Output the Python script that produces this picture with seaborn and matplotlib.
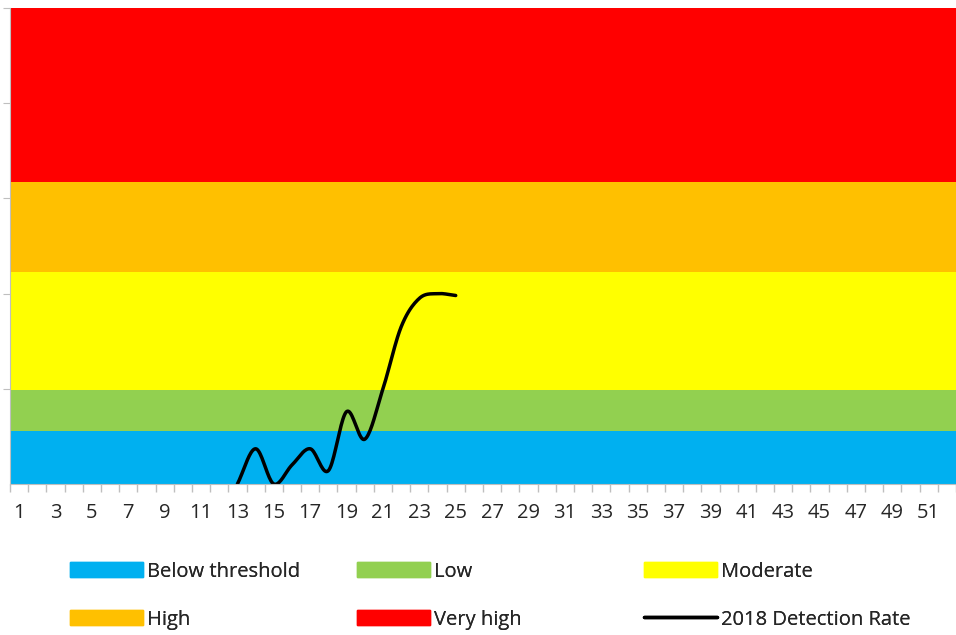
import numpy as np
import pandas as pd
import seaborn as sns
import matplotlib.pyplot as plt
from matplotlib.patches import Patch
from matplotlib.lines import Line2D

weeks = np.arange(1, 53)
band_names = ["Below threshold", "Low", "Moderate", "High", "Very high"]
band_tops = [0.56, 0.99, 2.23, 3.17, 5.0]
band_colors = ["#00B0F0", "#92D050", "#FFFF00", "#FFC000", "#FF0000"]

rate_weeks = [13, 14, 15, 16, 17, 18, 19, 20, 21, 22, 23, 24, 25]
rate_values = [0.0, 0.37, 0.0, 0.2, 0.37, 0.14, 0.76, 0.47, 1.0, 1.65, 1.95, 2.0, 1.98]


def smooth(xs, ys, n=20):
    # Catmull-Rom style smoothing, like a spreadsheet "smoothed line"
    xs = np.asarray(xs, float)
    ys = np.asarray(ys, float)
    px = np.concatenate([[2 * xs[0] - xs[1]], xs, [2 * xs[-1] - xs[-2]]])
    py = np.concatenate([[2 * ys[0] - ys[1]], ys, [2 * ys[-1] - ys[-2]]])
    ox, oy = [], []
    for i in range(1, len(px) - 2):
        t = np.linspace(0, 1, n, endpoint=False)
        for p, out in ((px, ox), (py, oy)):
            p0, p1, p2, p3 = p[i - 1], p[i], p[i + 1], p[i + 2]
            out.extend(0.5 * (2 * p1 + (-p0 + p2) * t + (2 * p0 - 5 * p1 + 4 * p2 - p3) * t ** 2
                              + (-p0 + 3 * p1 - 3 * p2 + p3) * t ** 3))
    ox.append(xs[-1])
    oy.append(ys[-1])
    return np.array(ox), np.array(oy)


sns.set_style("white")
plt.rcParams['font.family'] = ['Open Sans', 'DejaVu Sans']
plt.rcParams['xtick.bottom'] = True
plt.rcParams['ytick.left'] = True

fig = plt.figure(figsize=(9.56, 6.35), dpi=100)
ax = fig.add_axes([10 / 956, 1 - 484 / 635, 946 / 956, 476 / 635])

bottom = 0
for name, top, color in zip(band_names, band_tops, band_colors):
    ax.fill_between([0.5, 52.5], bottom, top, color=color, linewidth=0)
    bottom = top

sx, sy = smooth(rate_weeks, rate_values)
sns.lineplot(x=sx, y=sy, ax=ax, color="black", linewidth=2.5, sort=False)

ax.set_xlim(0.5, 52.5)
ax.set_ylim(0, 5)
ax.set_xticks(weeks[::2])
ax.set_xticklabels([str(w) for w in weeks[::2]], fontsize=14.5)
ax.set_xticks(np.arange(0.5, 53, 1), minor=True)
ax.tick_params(axis='x', which='major', length=0, pad=14)
ax.tick_params(axis='x', which='minor', bottom=True, length=6, width=1, color="#BFBFBF", direction="out")
ax.set_yticks([1, 2, 3, 4, 5])
ax.set_yticklabels([])
ax.tick_params(axis='y', length=5, color="#BFBFBF", direction="out")
for s in ["top", "right"]:
    ax.spines[s].set_visible(False)
ax.spines["left"].set_color("#BFBFBF")
ax.spines["bottom"].set_color("#BFBFBF")

patches = [Patch(color=c) for c in band_colors]
line = Line2D([0], [0], color="black", lw=2.5)
# one legend per column, placed at fixed x positions
columns = [
    ([patches[0], patches[3]], [band_names[0], band_names[3]]),
    ([patches[1], patches[4]], [band_names[1], band_names[4]]),
    ([patches[2], line], [band_names[2], "2018 Detection Rate"]),
]
for i, (h, l) in enumerate(columns):
    leg = fig.legend(h, l, loc="lower left", bbox_to_anchor=((52 + 287 * i) / 956, -0.02),
                     frameon=False, fontsize=14.5, handlelength=3.6, handleheight=0.8,
                     handletextpad=0.2, labelspacing=1.38)
    fig.add_artist(leg)

fig.savefig("out.png", dpi=100)
